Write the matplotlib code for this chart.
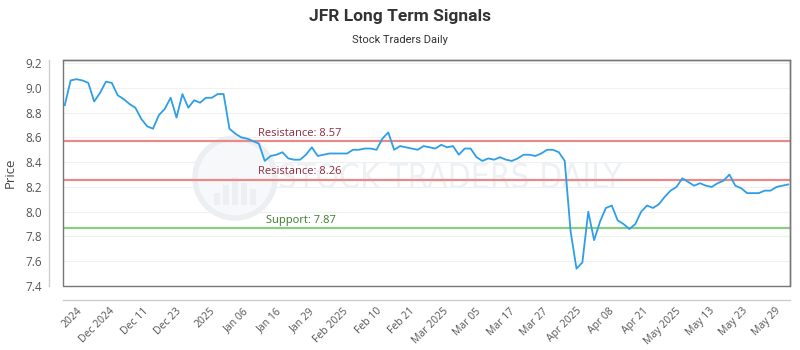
import numpy as np
import matplotlib
matplotlib.use("Agg")
import matplotlib.pyplot as plt
from matplotlib.patches import Circle, Rectangle

title = "JFR Long Term Signals"
subtitle = "Stock Traders Daily"

prices = [
    8.86, 9.06, 9.07, 9.06, 9.04, 8.89, 8.96, 9.05, 9.04, 8.94,
    8.91, 8.87, 8.84, 8.75, 8.69, 8.67, 8.78, 8.83, 8.92, 8.76,
    8.95, 8.84, 8.90, 8.88, 8.92, 8.92, 8.95, 8.95, 8.67, 8.63,
    8.60, 8.59, 8.57, 8.55, 8.41, 8.45, 8.46, 8.48, 8.43, 8.42,
    8.42, 8.46, 8.52, 8.45, 8.46, 8.47, 8.47, 8.47, 8.47, 8.50,
    8.50, 8.51, 8.51, 8.50, 8.59, 8.64, 8.50, 8.53, 8.52, 8.51,
    8.50, 8.53, 8.52, 8.51, 8.54, 8.52, 8.53, 8.46, 8.51, 8.51,
    8.44, 8.41, 8.43, 8.42, 8.44, 8.42, 8.41, 8.43, 8.46, 8.46,
    8.45, 8.47, 8.50, 8.50, 8.48, 8.41, 7.84, 7.54, 7.59, 8.00,
    7.77, 7.92, 8.03, 8.05, 7.93, 7.90, 7.86, 7.90, 8.00, 8.05,
    8.03, 8.06, 8.12, 8.17, 8.20, 8.27, 8.24, 8.21, 8.23, 8.21,
    8.20, 8.23, 8.25, 8.30, 8.21, 8.19, 8.15, 8.15, 8.15, 8.17,
    8.17, 8.20, 8.21, 8.22,
]

tick_labels = [
    "2024", "Dec 2024", "Dec 11", "Dec 23", "2025", "Jan 06", "Jan 16",
    "Jan 29", "Feb 2025", "Feb 10", "Feb 21", "Mar 2025", "Mar 05",
    "Mar 17", "Mar 27", "Apr 2025", "Apr 08", "Apr 21", "May 2025",
    "May 13", "May 23", "May 29",
]

resistance_levels = [8.57, 8.26]
support_levels = [7.87]
y_ticks = [7.4, 7.6, 7.8, 8.0, 8.2, 8.4, 8.6, 8.8, 9.0, 9.2]

plt.rcParams['font.family'] = ['Open Sans', 'DejaVu Sans']

fig = plt.figure(figsize=(8, 3.5), dpi=100)
ax = fig.add_axes([63 / 800, 1 - 286 / 350, 727 / 800, 226 / 350])

x = np.arange(len(prices))
ax.set_xlim(-0.3, len(prices) - 1 + 0.3)
ax.set_ylim(7.4, 9.225)

# grid
for yv in y_ticks:
    ax.axhline(yv, color='#f0f0f0', lw=0.8, zorder=0)

# watermark
ax.add_artist(Circle((235, 350 - 178), 40, transform=None, facecolor='#f7f8fa',
                     edgecolor='#eceff2', lw=4, zorder=0.5))
for i, h in enumerate([12, 20, 28, 22, 16]):
    bx = 214 + i * 9
    ax.add_artist(Rectangle((bx, 350 - 205), 6, h, transform=None,
                            facecolor='#edf0f3', edgecolor='none', zorder=0.6))
ax.text(450 / 800, 1 - 178 / 350, "STOCK TRADERS DAILY", transform=fig.transFigure,
        fontsize=24, color='#eef1f4', ha='center', va='center',
        family=['DejaVu Sans'], fontstretch='condensed', zorder=0.7)

# levels
for lv in resistance_levels:
    ax.axhline(lv, color='#e88a8a', lw=1.6, zorder=2)
    ax.text(0.268, lv + 0.018, f"Resistance: {lv:.2f}", transform=ax.get_yaxis_transform(),
            color='#8b2c3c', fontsize=8, ha='left', va='bottom', zorder=3)
for lv in support_levels:
    ax.axhline(lv, color='#8ccc82', lw=1.6, zorder=2)
    ax.text(0.279, lv + 0.018, f"Support: {lv:.2f}", transform=ax.get_yaxis_transform(),
            color='#3c7a2c', fontsize=8, ha='left', va='bottom', zorder=3)

ax.plot(x, prices, color='#2e9fe6', lw=1.3, zorder=4)

# axes styling
for side in ['top', 'right']:
    ax.spines[side].set_color('#777777')
    ax.spines[side].set_linewidth(1.0)
for side in ['left', 'bottom']:
    ax.spines[side].set_position(('outward', 10))
    ax.spines[side].set_color('#cccccc')
    ax.spines[side].set_linewidth(1.0)
ax.add_patch(Rectangle((0, 0), 1, 1, transform=ax.transAxes, fill=False,
                       ec='#777777', lw=1.0, clip_on=False, zorder=5))

ax.set_yticks(y_ticks)
ax.set_yticklabels([f"{v:.1f}" for v in y_ticks])
ax.tick_params(axis='y', length=0, pad=5, labelsize=8.5, labelcolor='#555555')

tick_pos = np.linspace(2.6, len(prices) - 2.5, len(tick_labels))
ax.set_xticks(tick_pos)
ax.set_xticklabels(tick_labels, rotation=45, ha='right', va='center',
                   rotation_mode='anchor')
ax.tick_params(axis='x', length=0, pad=7, labelsize=7.5, labelcolor='#555555')

ax.set_ylabel("Price", fontsize=9.5, color='#444444', labelpad=6)

fig.text(0.5, 1 - 16 / 350, title, ha='center', va='center', fontsize=12.5,
         fontweight='bold', color='#333333', family=['Roboto', 'DejaVu Sans'])
fig.text(0.5, 1 - 40 / 350, subtitle, ha='center', va='center', fontsize=8,
         color='#333333', family=['Roboto', 'DejaVu Sans'])

fig.savefig("out.png", dpi=100)
